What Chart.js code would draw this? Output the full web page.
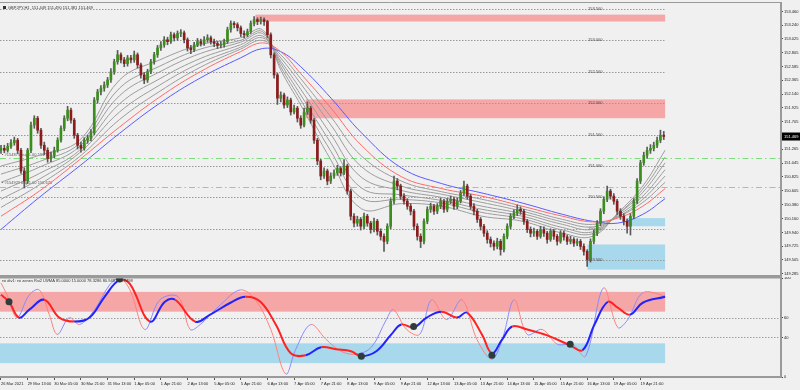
<!DOCTYPE html>
<html><head><meta charset="utf-8">
<script src="https://cdn.jsdelivr.net/npm/chart.js@4.4.1/dist/chart.umd.min.js"></script>
<style>
html,body{margin:0;padding:0;background:#f0f0f0;}
#wrap{position:relative;width:800px;height:390px;overflow:hidden;background:#f0f0f0;}
.box{position:absolute;left:0;width:800px;}
</style></head><body>
<div id="wrap">
<div class="box" style="top:0;height:277px"><canvas id="c1"></canvas></div>
<div class="box" style="top:277px;height:113px"><canvas id="c2"></canvas></div>
</div>
<script>
// ---------- DATA ----------
const symbolHeader = "GBPJPY,H1  151.449 151.490 151.381 151.469";
const indHeader = "rsi div1: rsi zones Rsi2 LWMA 85.0000 15.0000 78.3286 80.9487 80.9498";
const lastPrice = 151.469;

const timeLabels = ["26 Mar 2021","29 Mar 13:00","30 Mar 05:00","30 Mar 21:00","31 Mar 13:00","1 Apr 05:00","1 Apr 21:00","2 Apr 13:00","5 Apr 05:00","5 Apr 21:00","6 Apr 13:00","7 Apr 05:00","7 Apr 21:00","8 Apr 13:00","9 Apr 05:00","9 Apr 21:00","12 Apr 13:00","13 Apr 05:00","13 Apr 21:00","14 Apr 13:00","15 Apr 05:00","15 Apr 21:00","16 Apr 13:00","19 Apr 05:00","19 Apr 21:00"];
const barsPerLabel = 8;

const priceTicks = [153.460,153.240,153.025,152.805,152.585,152.365,152.140,151.925,151.705,151.485,151.265,151.045,150.825,150.605,150.380,150.160,149.940,149.725,149.505,149.285];
const roundLevels = [153.5,153.0,152.5,152.0,151.5,151.0,150.5,150.0,149.5];
const orderLevels = [151.12,150.67];
const orderLabels = ["#154875 buy 1.00 151.120","#154929 buy 1.00 150.670"];

const opens = [151.25,151.28,151.25,151.31,151.37,151.41,151.25,150.92,150.76,151.25,
151.65,151.76,151.57,151.33,151.25,151.12,151.17,151.25,151.41,151.60,
151.76,151.89,151.73,151.49,151.33,151.28,151.41,151.44,151.53,152.05,
152.18,152.24,152.29,152.37,152.50,152.66,152.77,152.69,152.63,152.72,
152.69,152.77,152.61,152.45,152.37,152.50,152.66,152.77,152.88,152.93,
153.01,152.98,153.09,153.04,153.11,153.12,153.01,152.88,152.85,152.93,
152.98,152.95,153.01,153.04,152.98,152.95,152.92,152.93,152.98,153.17,
153.27,153.25,153.20,153.11,153.09,153.14,153.27,153.33,153.30,153.33,
153.30,153.09,152.77,152.45,152.08,152.13,151.97,152.05,151.86,151.92,
151.76,151.65,151.86,151.92,151.73,151.41,151.08,150.84,150.92,150.76,
150.84,150.89,150.96,150.89,151.00,150.60,150.20,150.09,150.15,150.04,
150.20,150.09,149.99,150.12,149.96,149.88,149.80,150.04,150.44,150.76,
150.68,150.52,150.44,150.36,150.28,150.04,149.88,149.80,150.12,150.31,
150.36,150.28,150.36,150.44,150.31,150.44,150.47,150.36,150.44,150.57,
150.68,150.52,150.36,150.28,150.15,150.04,149.93,149.83,149.77,149.72,
149.80,149.67,149.88,150.04,150.20,150.25,150.31,150.28,150.12,149.99,
149.93,149.96,149.88,149.99,149.93,149.83,149.96,149.88,149.80,149.93,
149.87,149.80,149.83,149.77,149.80,149.72,149.64,149.51,149.80,149.93,
150.09,150.28,150.47,150.60,150.52,150.44,150.28,150.20,150.12,150.04,
150.20,150.44,150.76,151.05,151.17,151.25,151.28,151.33,151.41,151.49];
const highs = [151.33,151.33,151.36,151.42,151.46,151.44,151.28,150.97,151.28,151.70,
151.80,151.79,151.60,151.38,151.29,151.22,151.30,151.45,151.64,151.80,
151.95,151.92,151.76,151.52,151.38,151.45,151.49,151.58,152.09,152.22,
152.28,152.34,152.41,152.55,152.70,152.84,152.80,152.73,152.76,152.76,
152.83,152.80,152.64,152.49,152.54,152.70,152.81,152.92,152.98,153.06,
153.05,153.13,153.12,153.15,153.17,153.15,153.04,152.92,152.97,153.03,
153.02,153.06,153.09,153.07,153.02,152.98,152.98,153.02,153.21,153.31,
153.30,153.28,153.23,153.15,153.18,153.31,153.38,153.36,153.37,153.36,
153.32,153.12,152.80,152.48,152.18,152.16,152.10,152.08,151.97,151.95,
151.80,151.92,152.02,151.95,151.76,151.44,151.11,150.97,150.95,150.89,
150.94,151.01,150.99,151.10,151.03,150.63,150.24,150.20,150.18,150.25,
150.23,150.12,150.17,150.15,150.00,149.92,150.08,150.48,150.84,150.80,
150.71,150.56,150.48,150.40,150.31,150.08,149.92,150.16,150.35,150.41,
150.39,150.40,150.49,150.47,150.48,150.52,150.50,150.49,150.61,150.76,
150.71,150.55,150.40,150.31,150.18,150.07,149.97,149.87,149.81,149.85,
149.83,149.92,150.08,150.24,150.30,150.38,150.35,150.31,150.15,150.03,
150.01,149.99,150.04,150.03,149.96,150.00,149.99,149.91,149.97,149.96,
149.90,149.88,149.86,149.84,149.83,149.76,149.67,149.84,149.98,150.13,
150.32,150.51,150.68,150.63,150.56,150.47,150.32,150.24,150.16,150.24,
150.48,150.80,151.09,151.22,151.30,151.34,151.38,151.46,151.57,151.55];
const lows = [151.20,151.21,151.22,151.28,151.33,151.20,150.88,150.65,150.72,151.21,
151.60,151.52,151.28,151.18,151.06,151.07,151.13,151.22,151.38,151.56,
151.72,151.68,151.44,151.27,151.22,151.25,151.36,151.40,151.50,152.00,
152.13,152.19,152.25,152.33,152.46,152.62,152.64,152.58,152.59,152.64,
152.65,152.56,152.40,152.31,152.33,152.47,152.62,152.73,152.84,152.89,
152.93,152.95,152.99,153.00,153.06,152.96,152.83,152.79,152.82,152.90,
152.91,152.92,152.97,152.94,152.90,152.87,152.88,152.89,152.95,153.13,
153.20,153.15,153.06,153.04,153.06,153.11,153.23,153.25,153.26,153.24,
153.04,152.72,152.40,151.98,152.02,151.92,151.93,151.81,151.83,151.70,
151.60,151.62,151.82,151.68,151.36,151.02,150.78,150.80,150.70,150.72,
150.80,150.85,150.84,150.86,150.55,150.14,150.03,150.04,149.98,150.00,
150.04,149.93,149.95,149.90,149.82,149.64,149.76,150.00,150.40,150.62,
150.47,150.39,150.31,150.22,149.98,149.82,149.70,149.76,150.08,150.26,
150.23,150.24,150.32,150.26,150.27,150.40,150.31,150.32,150.41,150.53,
150.47,150.31,150.22,150.10,149.98,149.88,149.77,149.71,149.66,149.68,
149.58,149.63,149.84,150.00,150.16,150.21,150.23,150.07,149.94,149.87,
149.88,149.83,149.85,149.88,149.77,149.80,149.83,149.74,149.77,149.82,
149.75,149.76,149.72,149.73,149.67,149.58,149.40,149.47,149.76,149.89,
150.05,150.24,150.43,150.47,150.39,150.23,150.15,150.06,149.93,149.90,
150.16,150.40,150.72,151.01,151.12,151.20,151.24,151.29,151.37,151.42];
const closes = [151.28,151.25,151.31,151.37,151.41,151.25,150.92,150.76,151.25,151.65,
151.76,151.57,151.33,151.25,151.12,151.17,151.25,151.41,151.60,151.76,
151.89,151.73,151.49,151.33,151.28,151.41,151.44,151.53,152.05,152.18,
152.24,152.29,152.37,152.50,152.66,152.77,152.69,152.63,152.72,152.69,
152.77,152.61,152.45,152.37,152.50,152.66,152.77,152.88,152.93,153.01,
152.98,153.09,153.04,153.11,153.12,153.01,152.88,152.85,152.93,152.98,
152.95,153.01,153.04,152.98,152.95,152.92,152.93,152.98,153.17,153.27,
153.25,153.20,153.11,153.09,153.14,153.27,153.33,153.30,153.33,153.30,
153.09,152.77,152.45,152.08,152.13,151.97,152.05,151.86,151.92,151.76,
151.65,151.86,151.92,151.73,151.41,151.08,150.84,150.92,150.76,150.84,
150.89,150.96,150.89,151.00,150.60,150.20,150.09,150.15,150.04,150.20,
150.09,149.99,150.12,149.96,149.88,149.80,150.04,150.44,150.76,150.68,
150.52,150.44,150.36,150.28,150.04,149.88,149.80,150.12,150.31,150.36,
150.28,150.36,150.44,150.31,150.44,150.47,150.36,150.44,150.57,150.68,
150.52,150.36,150.28,150.15,150.04,149.93,149.83,149.77,149.72,149.80,
149.67,149.88,150.04,150.20,150.25,150.31,150.28,150.12,149.99,149.93,
149.96,149.88,149.99,149.93,149.83,149.96,149.88,149.80,149.93,149.87,
149.80,149.83,149.77,149.80,149.72,149.64,149.51,149.80,149.93,150.09,
150.28,150.47,150.60,150.52,150.44,150.28,150.20,150.12,150.04,150.20,
150.44,150.76,151.05,151.17,151.25,151.28,151.33,151.41,151.49,151.47];

// moving-average ribbon, read at sampled bars
const maIdx = [0,11.5,23.6,35.6,47.7,59.8,71.9,78.5,84,90,99.1,108.2,120.2,132.3,144.4,156.5,168.6,177.6,185.2,192.7,199.4];
const maRed  = [150.20,150.60,151.10,151.62,152.10,152.50,152.82,152.96,152.82,152.47,151.92,151.33,150.83,150.64,150.52,150.36,150.20,150.11,150.17,150.36,150.64];
const maBlue = [149.99,150.50,151.00,151.52,152.00,152.40,152.72,152.87,152.82,152.58,152.08,151.53,150.97,150.72,150.57,150.41,150.23,150.12,150.09,150.23,150.48];
const maGray1 = [151.00,151.17,151.41,152.37,152.69,152.93,153.04,153.17,152.53,151.97,151.09,150.32,150.40,150.36,150.20,150.12,149.93,149.88,150.25,150.68,151.25];
const maGray2 = [150.87,151.07,151.36,152.24,152.59,152.86,153.00,153.14,152.58,152.05,151.23,150.49,150.47,150.41,150.26,150.16,149.98,149.92,150.23,150.63,151.14];
const maGray3 = [150.74,150.98,151.31,152.12,152.50,152.79,152.97,153.11,152.63,152.13,151.36,150.65,150.54,150.45,150.31,150.20,150.02,149.95,150.23,150.58,151.05];
const maGray4 = [150.60,150.88,151.25,151.99,152.39,152.71,152.93,153.07,152.67,152.22,151.50,150.82,150.61,150.50,150.36,150.24,150.07,149.99,150.21,150.52,150.94];
const maGray5 = [150.47,150.79,151.21,151.86,152.29,152.64,152.89,153.04,152.72,152.31,151.65,150.99,150.68,150.55,150.42,150.28,150.11,150.03,150.19,150.47,150.84];
const maGray6 = [150.34,150.70,151.15,151.74,152.19,152.57,152.86,153.00,152.77,152.39,151.78,151.16,150.76,150.59,150.47,150.32,150.15,150.07,150.19,150.42,150.74];

// supply / demand zones
const zoneStart = [76.4,91.5,188.2,176.1];
const zoneEnd   = [199.4,199.4,199.4,199.4];
const zoneLow   = [153.30,151.76,150.04,149.35];
const zoneHigh  = [153.41,152.06,150.17,149.75];
const zoneKind  = ["supply","supply","demand","demand"];

// RSI panel
const rsiTicks = [100,60,40,0];
const rsiLevels = [60,40];
const obBand = [66,86];
const osBand = [14,34];
const bandEnd = 199.4;
const fastIdx = [0,1.8,4.8,8.5,11.5,14.5,16.9,20.5,23.6,28.1,32.6,35.6,38.7,43.2,47.7,53.2,56.8,59.8,65.9,71.9,76.4,81,85.5,88.5,93,97.6,102.1,106.6,111.2,115.7,117.8,121.8,125.7,129.3,133.8,138.4,142.9,147.4,150.5,154.1,158,162.5,167.1,171.6,175.5,180.9,185.2,188.2,192.7,199.4];
const fastVal = [95,83,60,83,88,63,43,60,53,68,93,100,88,48,78,81,48,53,73,88,78,48,3,28,53,38,26,23,30,58,68,48,43,78,58,78,38,18,38,78,43,48,33,33,21,90,50,58,85,82];
const slowIdx = [0,2.4,5.4,8.5,13,17.5,22,26.6,31.1,35.6,38.7,44.7,49.2,52.3,58.3,62.8,68.9,73.4,77.9,82.5,87,91.5,96.1,100.6,105.1,108.2,112.7,117.2,120.2,123.9,127.8,132.3,136.9,139.9,144.4,147.4,150.5,153.5,158,164,170.9,174.6,178.2,182.2,185.2,188.8,192.7,199.4];
const slowVal = [83,76,60,68,78,60,56,60,81,98,94,56,76,78,56,63,75,81,76,53,24,22,30,28,26,21,26,43,53,50,60,66,60,65,43,24,38,51,48,42,32,27,53,76,70,63,75,81];
const dotIdx = [2.4,35.6,108.2,123.9,147.4,170.9];
const dotVal = [76,99,21,51,22,33];

// ---------- STYLE / LAYOUT ----------
const X_MIN = -0.3, X_MAX = 234.2;
const FONT = '"Liberation Sans", Arial, sans-serif';
const FS = 4;
const upColor = '#3b8e1d', dnColor = '#8c1b1b';

const candleBodies = closes.map((c,i)=>({x:i, y:[opens[i], c]}));
const candleWicks = highs.map((h,i)=>({x:i, y:[lows[i], h]}));
const bodyColors = closes.map((c,i)=> c>=opens[i] ? upColor : dnColor);
const maPts = arr => maIdx.map((x,k)=>({x, y:arr[k]}));
const grayLine = arr => ({type:'line', data:maPts(arr), borderColor:'#9c9c9c', borderWidth:1, pointRadius:0, tension:0.4, order:6});

const mainDeco = {
  id:'mainDeco',
  beforeDatasetsDraw(chart){
    const {ctx, chartArea:a, scales:{x,y}} = chart;
    ctx.save();
    zoneStart.forEach((s,k)=>{
      ctx.fillStyle = zoneKind[k]==='supply' ? '#f5a7a7' : '#a8d8eb';
      const x0=x.getPixelForValue(s), x1=x.getPixelForValue(zoneEnd[k]);
      const y0=y.getPixelForValue(zoneHigh[k]), y1=y.getPixelForValue(zoneLow[k]);
      ctx.fillRect(x0,y0,x1-x0,y1-y0);
    });
    ctx.strokeStyle='#9a9a9a'; ctx.lineWidth=1; ctx.setLineDash([1.5,1.5]);
    roundLevels.forEach(v=>{
      const py=Math.round(y.getPixelForValue(v))+0.5;
      ctx.beginPath(); ctx.moveTo(a.left,py); ctx.lineTo(x.getPixelForValue(bandEnd),py); ctx.stroke();
    });
    ctx.setLineDash([]);
    ctx.fillStyle='#444'; ctx.font=FS+'px '+FONT; ctx.textAlign='center'; ctx.textBaseline='middle';
    roundLevels.forEach(v=>{
      ctx.fillText(v.toFixed(3), x.getPixelForValue(178.4), y.getPixelForValue(v));
    });
    ctx.strokeStyle='#7ddc7d'; ctx.setLineDash([6,3,1.5,3]);
    orderLevels.forEach((v,k)=>{
      const py=Math.round(y.getPixelForValue(v))+0.5;
      ctx.beginPath(); ctx.moveTo(a.left,py); ctx.lineTo(a.right,py); ctx.stroke();
    });
    ctx.setLineDash([]);
    ctx.fillStyle='#555'; ctx.textAlign='left'; ctx.textBaseline='bottom';
    orderLevels.forEach((v,k)=>{
      ctx.fillText('\u25AA '+orderLabels[k], a.left+2, y.getPixelForValue(v)-1.5);
    });
    ctx.restore();
  },
  afterDraw(chart){
    const {ctx, chartArea:a, scales:{y}} = chart;
    ctx.save();
    ctx.strokeStyle='#9a9a9a'; ctx.lineWidth=1;
    ctx.beginPath(); ctx.moveTo(0,a.top-0.5); ctx.lineTo(a.right,a.top-0.5); ctx.stroke();
    ctx.lineWidth=2;
    ctx.beginPath(); ctx.moveTo(0,a.bottom+1); ctx.lineTo(a.right+1,a.bottom+1); ctx.stroke();
    ctx.font=FS+'px '+FONT; ctx.textBaseline='middle'; ctx.textAlign='left';
    ctx.fillStyle='#333'; ctx.fillRect(3,6,3,3);
    ctx.fillText(symbolHeader, 8, 7.5);
    const py=y.getPixelForValue(lastPrice);
    ctx.fillStyle='#000'; ctx.fillRect(a.right+1,py-4,19,8);
    ctx.fillStyle='#fff'; ctx.fillText(lastPrice.toFixed(3), a.right+3, py);
    ctx.restore();
  }
};

new Chart(document.getElementById('c1'), {
  type:'bar',
  data:{datasets:[
    {type:'bar', data:candleWicks, backgroundColor:'#5a5a5a', barThickness:1, grouped:false, order:3},
    {type:'bar', data:candleBodies, backgroundColor:bodyColors, barThickness:2, grouped:false, minBarLength:1, order:2},
    grayLine(maGray1), grayLine(maGray2), grayLine(maGray3), grayLine(maGray4), grayLine(maGray5), grayLine(maGray6),
    {type:'line', data:maPts(maRed), borderColor:'#ff6a6a', borderWidth:1, pointRadius:0, tension:0.4, order:5},
    {type:'line', data:maPts(maBlue), borderColor:'#5a5aff', borderWidth:1, pointRadius:0, tension:0.4, order:5}
  ]},
  options:{
    responsive:true, maintainAspectRatio:false, animation:false, devicePixelRatio:1,
    layout:{padding:{top:3,bottom:2,left:0,right:0}, autoPadding:false},
    plugins:{legend:{display:false}, tooltip:{enabled:false}},
    scales:{
      x:{type:'linear', min:X_MIN, max:X_MAX, display:false, offset:false},
      y:{position:'right', min:149.264, max:153.595,
        afterBuildTicks:s=>{s.ticks=priceTicks.map(v=>({value:v}));},
        afterFit:s=>{s.width=19; s.paddingTop=0; s.paddingBottom=0;},
        ticks:{callback:v=>Number(v).toFixed(3), font:{size:FS,family:FONT}, color:'#222', padding:1, autoSkip:false},
        grid:{drawOnChartArea:false, tickLength:2, color:'#444'},
        border:{display:true, color:'#9a9a9a', width:2}}
    }
  },
  plugins:[mainDeco]
});

const rsiDeco = {
  id:'rsiDeco',
  beforeDatasetsDraw(chart){
    const {ctx, chartArea:a, scales:{x,y}} = chart;
    ctx.save();
    const xe = x.getPixelForValue(bandEnd);
    ctx.fillStyle='#f5a7a7';
    ctx.fillRect(a.left, y.getPixelForValue(obBand[1]), xe-a.left, y.getPixelForValue(obBand[0])-y.getPixelForValue(obBand[1]));
    ctx.fillStyle='#a8d8eb';
    ctx.fillRect(a.left, y.getPixelForValue(osBand[1]), xe-a.left, y.getPixelForValue(osBand[0])-y.getPixelForValue(osBand[1]));
    ctx.strokeStyle='#a0a0a0'; ctx.lineWidth=1; ctx.setLineDash([1.5,1.5]);
    rsiLevels.forEach(v=>{
      const py=Math.round(y.getPixelForValue(v))+0.5;
      ctx.beginPath(); ctx.moveTo(a.left,py); ctx.lineTo(a.right,py); ctx.stroke();
    });
    ctx.restore();
  },
  afterDraw(chart){
    const {ctx, chartArea:a} = chart;
    ctx.save();
    ctx.strokeStyle='#9a9a9a'; ctx.lineWidth=2;
    ctx.beginPath(); ctx.moveTo(0,a.top-0.5); ctx.lineTo(a.right+1,a.top-0.5); ctx.stroke();
    ctx.font=FS+'px '+FONT; ctx.fillStyle='#333'; ctx.textBaseline='middle'; ctx.textAlign='left';
    ctx.fillText(indHeader, 2, a.top+3);
    ctx.restore();
  }
};

new Chart(document.getElementById('c2'), {
  type:'line',
  data:{datasets:[
    {data:fastIdx.map((x,k)=>({x, y:fastVal[k]})), borderWidth:1, pointRadius:0, tension:0.35, borderColor:'#8a8aff',
      segment:{borderColor:c=> c.p1.parsed.y>=c.p0.parsed.y ? '#8a8aff' : '#ff8080'}, order:3},
    {data:slowIdx.map((x,k)=>({x, y:slowVal[k]})), borderWidth:2, pointRadius:0, tension:0.4, borderColor:'#2222ff',
      segment:{borderColor:c=> c.p1.parsed.y>=c.p0.parsed.y ? '#2222ff' : '#ff2222'}, order:2},
    {data:dotIdx.map((x,k)=>({x, y:dotVal[k]})), showLine:false, pointRadius:3.5, pointBackgroundColor:'#2f3c3c', pointBorderWidth:0, order:1}
  ]},
  options:{
    responsive:true, maintainAspectRatio:false, animation:false, devicePixelRatio:1,
    layout:{padding:{top:1,bottom:0,left:0,right:0}, autoPadding:false},
    plugins:{legend:{display:false}, tooltip:{enabled:false}},
    scales:{
      x:{type:'linear', min:X_MIN, max:X_MAX, offset:false,
        afterBuildTicks:s=>{s.ticks=timeLabels.map((t,k)=>({value:k*barsPerLabel}));},
        afterFit:s=>{s.height=13; s.paddingLeft=0; s.paddingRight=0;},
        ticks:{callback:v=>timeLabels[Math.round(v/barsPerLabel)]||'', font:{size:FS,family:FONT}, color:'#222', align:'start', padding:1, autoSkip:false, maxRotation:0},
        grid:{drawOnChartArea:false, tickLength:3, color:'#555'},
        border:{display:true, color:'#9a9a9a', width:2}},
      y:{position:'right', min:0, max:100,
        afterBuildTicks:s=>{s.ticks=rsiTicks.map(v=>({value:v}));},
        afterFit:s=>{s.width=19; s.paddingTop=0; s.paddingBottom=0;},
        ticks:{callback:v=>String(v), font:{size:FS,family:FONT}, color:'#222', padding:1, autoSkip:false},
        grid:{drawOnChartArea:false, tickLength:2, color:'#444'},
        border:{display:true, color:'#9a9a9a', width:2}}
    }
  },
  plugins:[rsiDeco]
});
</script>
</body></html>
